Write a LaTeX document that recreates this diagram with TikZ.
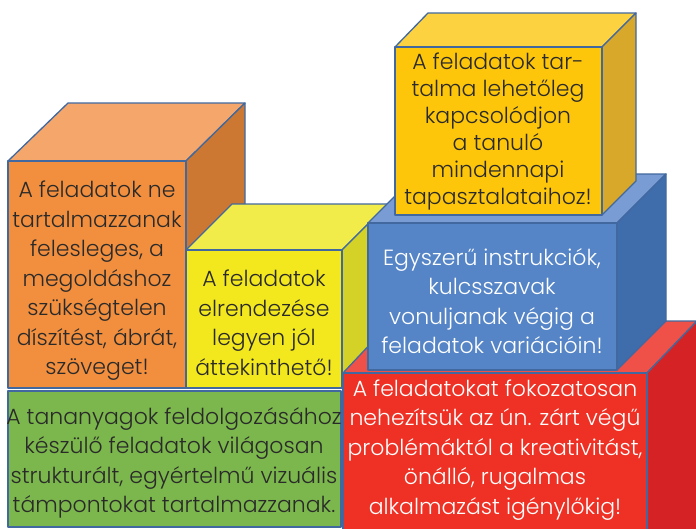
\documentclass[tikz,border=0pt]{standalone}
\usepackage{fontspec}
\setmainfont{Poppins Light}
\definecolor{edge}{HTML}{41699F}
\definecolor{orF}{HTML}{F28F3F}\definecolor{orT}{HTML}{F4A66B}\definecolor{orS}{HTML}{CC7832}
\definecolor{yeF}{HTML}{F3E81E}\definecolor{yeT}{HTML}{F2EC4A}\definecolor{yeS}{HTML}{D5D227}
\definecolor{goF}{HTML}{FEC60B}\definecolor{goT}{HTML}{FDD240}\definecolor{goS}{HTML}{D8A82A}
\definecolor{blF}{HTML}{5585C6}\definecolor{blT}{HTML}{789CD3}\definecolor{blS}{HTML}{3F6CAB}
\definecolor{reF}{HTML}{EE3124}\definecolor{reT}{HTML}{EF5048}\definecolor{reS}{HTML}{D52225}
\definecolor{grF}{HTML}{7BB74C}
\definecolor{ink}{HTML}{2A2A2A}
\tikzset{
  face/.style={draw=edge, line width=1.3pt, line join=round},
  label/.style={align=center, font=\fontsize{22}{29.5}\selectfont, inner sep=0pt},
  darktext/.style={label, text=ink},
  lighttext/.style={label, text=white},
}
\begin{document}
\begin{tikzpicture}[x=1pt,y=-1pt]
\useasboundingbox (0,0) rectangle (696,528);
\clip (0,0) rectangle (696,528);
% orange cube
\filldraw[face, fill=orT] (8,161) -- (68,103) -- (245,103) -- (186,161) -- cycle;
\filldraw[face, fill=orS] (186,161) -- (245,103) -- (245,330) -- (186,388) -- cycle;
\filldraw[face, fill=orF] (8,161) rectangle (186,388);
% yellow cube
\filldraw[face, fill=yeT] (186,250) -- (232,204) -- (388,204) -- (342,250) -- cycle;
\filldraw[face, fill=yeS] (342,250) -- (388,204) -- (388,342) -- (342,388) -- cycle;
\filldraw[face, fill=yeF] (186,250) rectangle (342,388);
% red cube
\filldraw[face, fill=reT] (343,373) -- (392,321) -- (697,321) -- (647,373) -- cycle;
\filldraw[face, fill=reS] (647,373) -- (697,321) -- (697,560) -- (647,612) -- cycle;
\filldraw[face, fill=reF] (343,373) rectangle (647,540);
% blue cube
\filldraw[face, fill=blT] (368,223) -- (417,174) -- (666,174) -- (617,223) -- cycle;
\filldraw[face, fill=blS] (617,223) -- (666,174) -- (666,321) -- (617,370) -- cycle;
\filldraw[face, fill=blF] (368,223) rectangle (617,370);
% gold cube
\filldraw[face, fill=goT] (395,47) -- (428,13) -- (636,13) -- (602,47) -- cycle;
\filldraw[face, fill=goS] (602,47) -- (636,13) -- (636,181) -- (602,215) -- cycle;
\filldraw[face, fill=goF] (395,47) rectangle (602,215);
% green box
\filldraw[face, fill=grF] (8,391) rectangle (341,527);
% texts
\node[darktext] (orange) at (97,281) {A feladatok ne\\tartalmazzanak\\felesleges, a\\megoldáshoz\\szükségtelen\\díszítést, ábrát,\\szöveget!};
\node[darktext] (yellow) at (264,323) {A feladatok\\elrendezése\\legyen jól\\áttekinthető!};
\node[darktext, font=\fontsize{22}{27}\selectfont] (gold) at (498,132) {A feladatok tar-\\talma lehetőleg\\kapcsolódjon\\a tanuló\\mindennapi\\tapasztalataihoz!};
\node[lighttext] (blue) at (492,301) {Egyszerű instrukciók,\\kulcsszavak\\vonuljanak végig a\\feladatok variációin!};
\node[lighttext] (red) at (495,450) {A feladatokat fokozatosan\\nehezítsük az ún. zárt végű\\problémáktól a kreativitást,\\önálló, rugalmas\\alkalmazást igénylőkig!};
\node[darktext] (green) at (174,463) {A tananyagok feldolgozásához\\készülő feladatok világosan\\strukturált, egyértelmű vizuális\\támpontokat tartalmazzanak.};
\end{tikzpicture}
\end{document}
